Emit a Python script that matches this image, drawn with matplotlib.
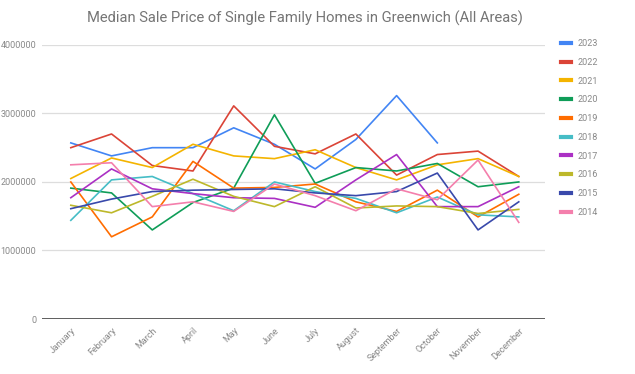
import matplotlib
matplotlib.use("Agg")
import matplotlib.pyplot as plt
import numpy as np

plt.rcParams["font.family"] = ["Roboto", "DejaVu Sans"]

MONTHS = ["January", "February", "March", "April", "May", "June", "July",
          "August", "September", "October", "November", "December"]

Y2023 = [2570000, 2380000, 2500000, 2500000, 2790000, 2550000, 2190000,
         2620000, 3260000, 2570000]
Y2022 = [2500000, 2700000, 2240000, 2160000, 3110000, 2520000, 2410000,
         2700000, 2100000, 2400000, 2450000, 2080000]
Y2021 = [2050000, 2350000, 2210000, 2550000, 2380000, 2340000, 2470000,
         2210000, 2030000, 2250000, 2340000, 2080000]
Y2020 = [1910000, 1840000, 1300000, 1700000, 1910000, 2980000, 1980000,
         2210000, 2160000, 2270000, 1930000, 2000000]
Y2019 = [2000000, 1200000, 1490000, 2300000, 1910000, 1920000, 1970000,
         1710000, 1570000, 1880000, 1490000, 1820000]
Y2018 = [1440000, 2030000, 2080000, 1830000, 1580000, 2000000, 1860000,
         1760000, 1550000, 1780000, 1520000, 1490000]
Y2017 = [1770000, 2190000, 1900000, 1830000, 1770000, 1760000, 1630000,
         2030000, 2400000, 1640000, 1640000, 1930000]
Y2016 = [1660000, 1550000, 1790000, 2040000, 1790000, 1640000, 1930000,
         1620000, 1650000, 1640000, 1540000, 1600000]
Y2015 = [1610000, 1750000, 1860000, 1880000, 1890000, 1900000, 1840000,
         1800000, 1860000, 2130000, 1300000, 1710000]
Y2014 = [2250000, 2280000, 1640000, 1710000, 1570000, 1970000, 1800000,
         1580000, 1900000, 1740000, 2320000, 1410000]

SERIES = [
    ("2023", Y2023, "#4285f4"),
    ("2022", Y2022, "#db4437"),
    ("2021", Y2021, "#f4b400"),
    ("2020", Y2020, "#0f9d58"),
    ("2019", Y2019, "#ff6d00"),
    ("2018", Y2018, "#46bdc6"),
    ("2017", Y2017, "#ab30c4"),
    ("2016", Y2016, "#bdb82a"),
    ("2015", Y2015, "#3949ab"),
    ("2014", Y2014, "#f47fac"),
]

fig = plt.figure(figsize=(6.35, 3.74), dpi=100)
ax = fig.add_axes([0.066, 0.147, 0.792, 0.733])

x = np.arange(len(MONTHS))
handles = []
for label, vals, color in SERIES:
    (ln,) = ax.plot(x[:len(vals)], vals, color=color, linewidth=1.2,
                    label=label)
    handles.append(ln)

ax.set_xlim(-0.71, 11.64)
ax.set_ylim(0, 4000000)
ax.set_yticks([0, 1000000, 2000000, 3000000, 4000000])
ax.set_yticklabels(["0", "1000000", "2000000", "3000000", "4000000"])
ax.set_xticks(x)
ax.set_xticklabels(MONTHS, rotation=45, ha="right", rotation_mode="anchor")
ax.tick_params(axis="both", length=0, labelsize=6.5, colors="#888888")
ax.tick_params(axis="y", pad=4)
ax.tick_params(axis="x", pad=5)
for s in ax.spines.values():
    s.set_visible(False)
ax.grid(axis="y", color="#dddddd", linewidth=0.9)
ax.set_axisbelow(True)
ax.axhline(0, color="#444444", linewidth=1.2, zorder=3)

fig.suptitle("Median Sale Price of Single Family Homes in Greenwich (All Areas)",
             x=0.48, y=0.972, fontsize=10.6, color="#757575")

leg = fig.legend(handles=handles, loc="upper left",
                 bbox_to_anchor=(0.878, 0.905), frameon=False,
                 fontsize=6.5, handlelength=1.1, handletextpad=0.7,
                 labelspacing=1.08, borderaxespad=0)
for t in leg.get_texts():
    t.set_color("#888888")
for h in leg.legend_handles:
    h.set_linewidth(3)

fig.savefig("out.png", dpi=100)
